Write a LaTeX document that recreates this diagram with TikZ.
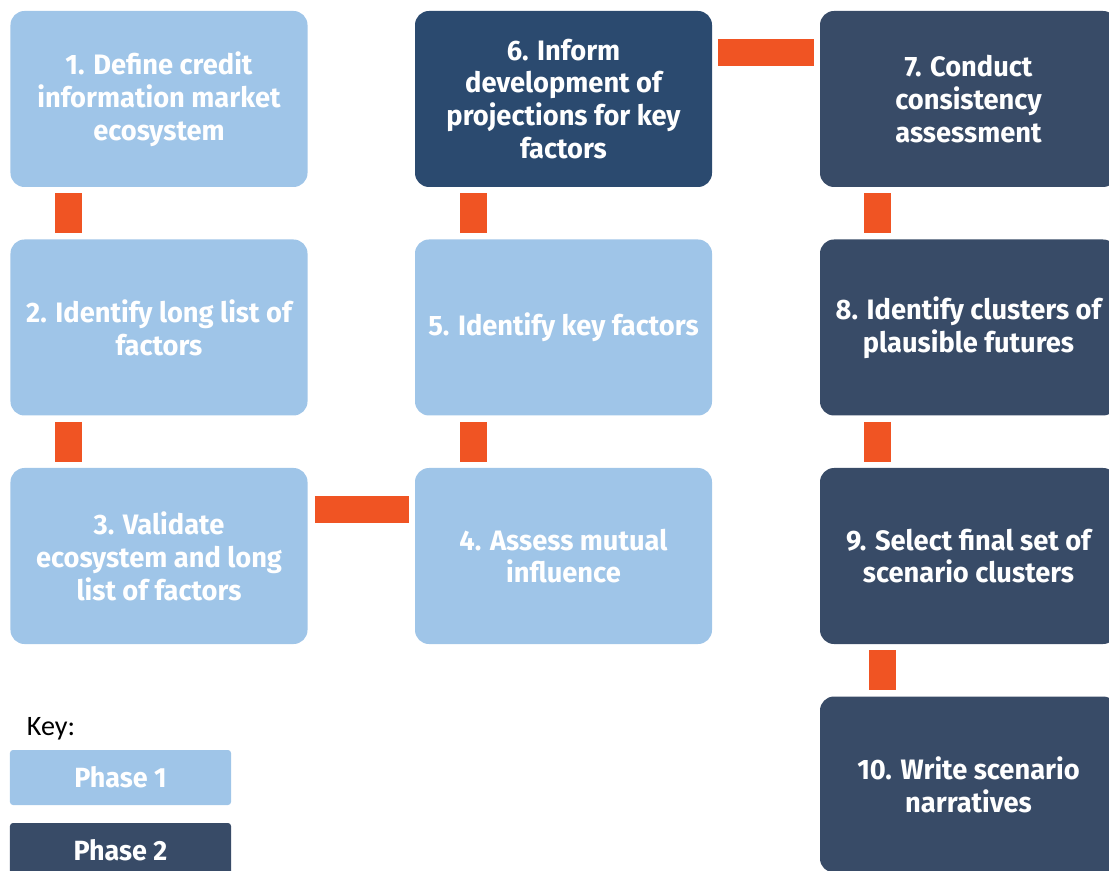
\documentclass[tikz,border=0pt]{standalone}
\usepackage{fontspec}
\setmainfont{Fira Sans}
\newfontfamily\boxfont[FakeStretch=0.97]{Fira Sans}
\newfontfamily\keyfont{Carlito}
\usetikzlibrary{positioning}

\definecolor{lightphase}{HTML}{9FC5E8}
\definecolor{darkphase}{HTML}{384B67}
\definecolor{deepphase}{HTML}{2B4A6F}
\definecolor{linkorange}{HTML}{F05423}

\tikzstyle{block} = [
        rectangle,
        rounded corners=0.28cm,
        minimum width=5.94cm,
        minimum height=3.52cm,
        align=center,
        text=white,
        font=\boxfont\bfseries\fontsize{16}{18.7}\selectfont
    ]
\tikzstyle{phaseone} = [block, fill=lightphase]
\tikzstyle{phasetwo} = [block, fill=darkphase]
\tikzstyle{keybox} = [
        rectangle,
        rounded corners=0.06cm,
        minimum width=4.42cm,
        minimum height=1.1cm,
        text=white,
        font=\boxfont\bfseries\fontsize{15.8}{19}\selectfont
    ]
\tikzstyle{link} = [draw=linkorange, line width=0.54cm, shorten <=0.12cm, shorten >=0.12cm]

\begin{document}
\begin{tikzpicture}[node distance=4.57cm]
        \clip (-3.18,1.98) rectangle (19.0,-15.44);

        \node (define) [phaseone] at (0,0)
            {1. Define credit\\information market\\ecosystem};

        \node (longlist) [%
            phaseone,%
            below of=define
            ] {2. Identify long list of\\factors};

        \node (validate) [%
            phaseone,%
            below of=longlist
            ] {3. Validate\\ecosystem and long\\list of factors};

        \node (assess) [%
            phaseone,%
            right of=validate,%
            node distance=8.09cm
            ] {4. Assess mutual\\influence};

        \node (keyfactors) [%
            phaseone,%
            below of=assess,%
            node distance=-4.57cm
            ] {5. Identify key factors};

        \node (inform) [%
            phasetwo,%
            fill=deepphase,%
            below of=keyfactors,%
            node distance=-4.57cm
            ] {6. Inform\\development of\\projections for key\\factors};

        \node (consistency) [%
            phasetwo,%
            right of=inform,%
            node distance=8.1cm
            ] {7. Conduct\\consistency\\assessment};

        \node (clusters) [%
            phasetwo,%
            below of=consistency
            ] {8. Identify clusters of\\plausible futures};

        \node (select) [%
            phasetwo,%
            below of=clusters
            ] {9. Select final set of\\scenario clusters};

        \node (narratives) [%
            phasetwo,%
            below of=select
            ] {10. Write scenario\\narratives};

        % key
        \node (phaseonekey) [%
            keybox,%
            fill=lightphase,%
            below of=validate,%
            node distance=4.43cm,%
            xshift=-0.77cm
            ] {Phase 1};

        \node (phasetwokey) [%
            keybox,%
            fill=darkphase,%
            below of=phaseonekey,%
            node distance=1.46cm
            ] {Phase 2};

        \node (key) [anchor=base west, inner sep=0pt, font=\keyfont\fontsize{16}{19}\selectfont]
            at ([xshift=0.34cm, yshift=0.28cm]phaseonekey.north west) {Key:};

        \draw [link] ([xshift=-1.81cm]define.south) -- ([xshift=-1.81cm]longlist.north);
        \draw [link] ([xshift=-1.81cm]longlist.south) -- ([xshift=-1.81cm]validate.north);
        \draw [link, shorten <=0.14cm] ([yshift=0.94cm]validate.east) -- ([yshift=0.94cm]assess.west);
        \draw [link] ([xshift=-1.8cm]assess.north) -- ([xshift=-1.8cm]keyfactors.south);
        \draw [link] ([xshift=-1.8cm]keyfactors.north) -- ([xshift=-1.8cm]inform.south);
        \draw [link] ([yshift=0.93cm]inform.east) -- ([yshift=0.93cm]consistency.west);
        \draw [link] ([xshift=-1.82cm]consistency.south) -- ([xshift=-1.82cm]clusters.north);
        \draw [link] ([xshift=-1.82cm]clusters.south) -- ([xshift=-1.82cm]select.north);
        \draw [link] ([xshift=-1.72cm]select.south) -- ([xshift=-1.72cm]narratives.north);

    \end{tikzpicture}
\end{document}
